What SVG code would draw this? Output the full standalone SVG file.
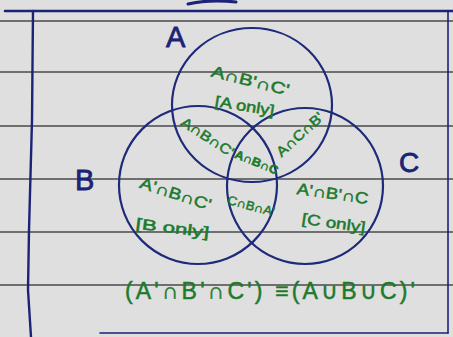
<svg xmlns="http://www.w3.org/2000/svg" width="453" height="337" viewBox="0 0 453 337">
<style>
.rule{stroke:#4a4a4a;stroke-width:1.6;fill:none}
.ink{stroke:#1b2377;fill:none;stroke-linecap:round}
.circ{stroke:#1e2a7a;stroke-width:2.2;fill:none}
.set{font-family:"Liberation Sans",Arial,sans-serif;fill:#1b2377;stroke:#1b2377;stroke-width:0.8}
.lbl{font-family:"Liberation Sans",Arial,sans-serif;fill:#1c7a2c;stroke:#1c7a2c;stroke-width:0.5;text-anchor:middle}
</style>
<rect width="453" height="337" fill="#dfdfdf"/>
<g id="paper">
<line class="rule" x1="0" y1="21" x2="453" y2="21"/>
<line class="rule" x1="0" y1="72" x2="453" y2="72"/>
<line class="rule" x1="0" y1="126" x2="453" y2="126"/>
<line class="rule" x1="0" y1="179" x2="453" y2="179"/>
<line class="rule" x1="0" y1="232" x2="453" y2="232"/>
<line class="rule" x1="0" y1="285" x2="453" y2="285"/>
<path class="ink" stroke-width="2.6" d="M5 11 L453 11"/>
<path class="ink" stroke-width="2.4" d="M33 11 L32 120 L29 230 L28 290 L31 337"/>
<path class="ink" stroke-width="1.6" d="M448 11 L448 333"/>
<path class="ink" stroke-width="1.6" d="M100 333 L448 333"/>
<path class="ink" stroke-width="3" d="M188 4 Q210 -1 236 2"/>
</g>
<g id="circles">
<g id="setA"><ellipse class="circ" cx="252" cy="105" rx="80" ry="77"/><text class="set" x="166" y="47" font-size="29">A</text></g>
<g id="setB"><circle class="circ" cx="198" cy="185" r="79"/><text class="set" x="75" y="190" font-size="29">B</text></g>
<g id="setC"><circle class="circ" cx="305" cy="186" r="78"/><text class="set" x="399" y="172" font-size="28">C</text></g>
</g>
<g id="regions">
<g id="aOnly">
<text class="lbl" font-size="16" textLength="80" lengthAdjust="spacingAndGlyphs" transform="translate(249,86) rotate(14)">A∩B'∩C'</text>
<text class="lbl" font-size="15" textLength="60" lengthAdjust="spacingAndGlyphs" transform="translate(244,111) rotate(9)">[A only]</text>
</g>
<g id="aB"><text class="lbl" font-size="14" textLength="60" lengthAdjust="spacingAndGlyphs" transform="translate(205,141) rotate(33)">A∩B∩C'</text></g>
<g id="aC"><text class="lbl" font-size="14" textLength="58" lengthAdjust="spacingAndGlyphs" transform="translate(303,138) rotate(-42)">A∩C∩B'</text></g>
<g id="aBC"><text class="lbl" font-size="12" font-weight="bold" textLength="46" lengthAdjust="spacingAndGlyphs" transform="translate(255,166) rotate(22)">A∩B∩C</text></g>
<g id="bC"><text class="lbl" font-size="12.5" textLength="48" lengthAdjust="spacingAndGlyphs" transform="translate(250,210) rotate(15)">C∩B∩A'</text></g>
<g id="bOnly">
<text class="lbl" font-size="16" textLength="74" lengthAdjust="spacingAndGlyphs" transform="translate(174,199) rotate(18)">A'∩B∩C'</text>
<text class="lbl" font-size="15" textLength="74" lengthAdjust="spacingAndGlyphs" transform="translate(172,233) rotate(7)">[B only]</text>
</g>
<g id="cOnly">
<text class="lbl" font-size="16" textLength="72" lengthAdjust="spacingAndGlyphs" transform="translate(332,199) rotate(8)">A'∩B'∩C</text>
<text class="lbl" font-size="15" textLength="64" lengthAdjust="spacingAndGlyphs" transform="translate(333,228) rotate(8)">[C only]</text>
</g>
</g>
<g id="equation"><text class="lbl" font-size="23" stroke-width="0.2" x="270" y="299" textLength="290" lengthAdjust="spacing">(A'∩B'∩C') ≡(A∪B∪C)'</text></g>
</svg>
